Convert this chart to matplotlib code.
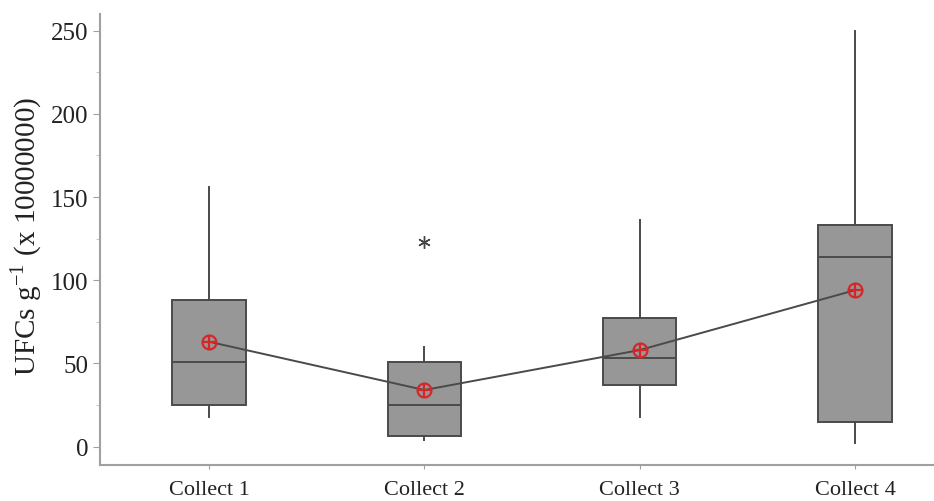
import numpy as np
import matplotlib
matplotlib.use('Agg')
import matplotlib.pyplot as plt

# --- data ---
collects = ['Collect 1', 'Collect 2', 'Collect 3', 'Collect 4']
whislo = [18, 4, 18, 2]
q1     = [25, 6.5, 37, 15]
median = [51, 25, 53, 114]
q3     = [88, 51, 77, 133]
whishi = [156, 60, 136, 250]
means  = [63, 34, 58, 94]
outliers = [[], [123], [], []]

plt.rcParams['font.family'] = ['Liberation Serif', 'DejaVu Serif']
plt.rcParams['mathtext.fontset'] = 'stix'

fig = plt.figure(figsize=(9.34, 5.02), dpi=100)
ax = fig.add_axes([0.107, 0.072, 0.893, 0.898])

stats = []
for i, lab in enumerate(collects):
    stats.append({'label': lab, 'whislo': whislo[i], 'q1': q1[i],
                  'med': median[i], 'q3': q3[i], 'whishi': whishi[i],
                  'fliers': outliers[i]})

pos = np.arange(1, len(collects) + 1)
edge = '#4a4a4a'
ax.bxp(stats, positions=pos, widths=0.34, patch_artist=True,
       showcaps=False,
       boxprops=dict(facecolor='#979797', edgecolor=edge, lw=1.4),
       medianprops=dict(color=edge, lw=1.4),
       whiskerprops=dict(color=edge, lw=1.4),
       flierprops=dict(marker=(6, 2, 0), markersize=9,
                       markeredgecolor='#444444', markeredgewidth=1.0))

# mean connect line
ax.plot(pos, means, color='#4a4a4a', lw=1.4, zorder=3)
ax.plot(pos, means, ls='none', marker='o', ms=10, mfc='none',
        mec='#d62728', mew=1.6, zorder=4)
ax.plot(pos, means, ls='none', marker='+', ms=10,
        mec='#d62728', mew=1.6, zorder=4)

ax.set_xlim(0.493, 4.367)
ax.set_ylim(-11, 260)
ax.set_yticks(np.arange(0, 251, 50))
ax.set_yticks(np.arange(25, 251, 50), minor=True)
ax.set_xticks(pos)
ax.set_xticklabels(collects)

ax.set_ylabel('UFCs g$^{\\mathregular{-1}}$ (x 10000000)', fontsize=21,
              color='#222222', va='center')
ax.yaxis.set_label_coords(-0.088, 0.51)

for s in ['top', 'right']:
    ax.spines[s].set_visible(False)
for s in ['left', 'bottom']:
    ax.spines[s].set_color('#a0a0a0')
    ax.spines[s].set_linewidth(1.5)

ax.tick_params(axis='y', which='major', length=5, color='#a0a0a0',
               labelsize=18, labelcolor='#222222')
ax.tick_params(axis='y', which='minor', length=3, color='#c0c0c0')
ax.tick_params(axis='x', length=3, color='#a0a0a0', labelsize=16,
               labelcolor='#222222', pad=8)

fig.savefig('out.png', dpi=100)
